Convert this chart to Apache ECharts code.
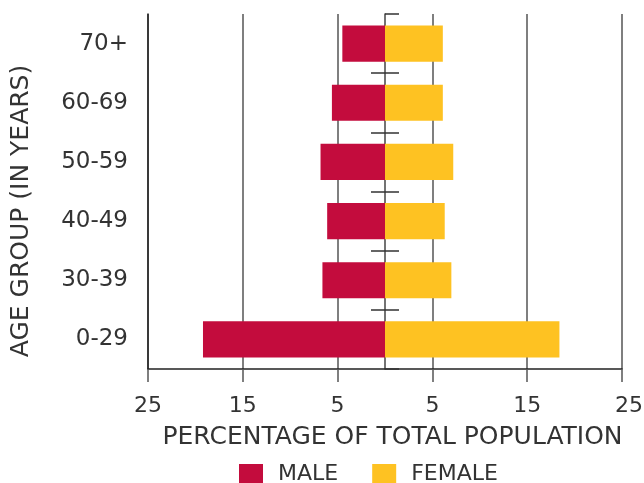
<!DOCTYPE html>
<html>
<head>
<meta charset="utf-8">
<script src="https://cdn.jsdelivr.net/npm/echarts@6/dist/echarts.min.js"></script>
<style>
  html, body { margin: 0; padding: 0; background: #fff; }
  #chart { width: 644px; height: 483px; }
</style>
</head>
<body>
<div id="chart"></div>
<script>
// Age groups, bottom to top
const ageGroups = ['0-29', '30-39', '40-49', '50-59', '60-69', '70+'];
// Share of total population (%)
const maleShare = [19.2, 6.6, 6.1, 6.8, 5.6, 4.5];
const femaleShare = [18.4, 7.0, 6.3, 7.2, 6.1, 6.1];
// Percentage axis ticks
const axisMin = -25;
const axisMax = 25;
const axisStep = 10;
// Band boundaries that carry a left-hand tick on the centre line
const centreTickLeft = [1, 2, 3, 4, 5];

const FONT = 'DejaVu Sans';
const TEXT = '#333333';
const RED = '#C30C3D';
const YELLOW = '#FEC222';

const chart = echarts.init(document.getElementById('chart'), null, { renderer: 'canvas' });

chart.setOption({
  animation: false,
  backgroundColor: '#ffffff',
  textStyle: { fontFamily: FONT, color: TEXT },
  grid: { left: 148, right: 22, top: 14, bottom: 114, containLabel: false, outerBoundsMode: 'none' },
  graphic: [{
    type: 'text',
    x: 21, y: 211,
    rotation: Math.PI / 2,
    style: {
      text: 'AGE GROUP (IN YEARS)',
      font: '25px "DejaVu Sans"',
      fill: TEXT,
      align: 'center',
      verticalAlign: 'middle'
    }
  }],
  legend: {
    left: 239, top: 463, padding: 0,
    itemWidth: 24, itemHeight: 20, itemGap: 34,
    icon: 'rect',
    textStyle: { fontFamily: FONT, fontSize: 22, color: TEXT, padding: [0, 0, 0, 10] },
    data: ['MALE', 'FEMALE']
  },
  xAxis: [{
    type: 'value',
    min: axisMin, max: axisMax, interval: axisStep,
    name: 'PERCENTAGE OF TOTAL POPULATION',
    nameLocation: 'middle',
    nameGap: 56,
    nameTextStyle: { fontFamily: FONT, fontSize: 25, color: TEXT, padding: [0, 0, 0, 15] },
    axisLine: { onZero: false, lineStyle: { color: '#222', width: 1.5 } },
    axisTick: { show: true, length: 13, lineStyle: { color: '#555', width: 1.5 } },
    axisLabel: {
      fontFamily: FONT, fontSize: 22, color: TEXT, margin: 26,
      // the outermost right label is nudged inward from the chart edge
      formatter: v => v === axisMax ? '{edge|' + Math.abs(v) + '}' : String(Math.abs(v)),
      rich: {
        edge: { fontFamily: FONT, fontSize: 22, color: TEXT, padding: [0, 0, 0, 14] }
      }
    },
    splitLine: { show: true, lineStyle: { color: '#555', width: 1.5 } }
  }, {
    // helper scale so a second centre-line axis can sit on zero
    type: 'value',
    min: axisMin, max: axisMax,
    show: false
  }],
  yAxis: [{
    type: 'category',
    data: ageGroups,
    position: 'left',
    axisLine: { onZero: false, lineStyle: { color: '#222', width: 1.5 } },
    axisTick: { show: false },
    axisLabel: { fontFamily: FONT, fontSize: 23, color: TEXT, margin: 20 }
  }, {
    type: 'category',
    data: ageGroups,
    position: 'left',
    axisLine: { show: true, onZero: true, onZeroAxisIndex: 0, lineStyle: { color: '#444', width: 1.5 } },
    axisTick: { show: true, inside: true, length: 14, lineStyle: { color: '#333', width: 1.5 } },
    axisLabel: { show: false }
  }, {
    type: 'value',
    min: 0, max: ageGroups.length,
    position: 'left',
    splitLine: { show: false },
    axisLine: { show: true, onZero: true, onZeroAxisIndex: 1, lineStyle: { color: 'rgba(0,0,0,0)', width: 0 } },
    axisTick: { show: true, inside: false, length: 14, customValues: centreTickLeft,
                lineStyle: { color: '#333', width: 1.5 } },
    axisLabel: { show: false }
  }],
  series: [{
    name: 'MALE',
    type: 'bar',
    stack: 'pop',
    yAxisIndex: 0,
    barCategoryGap: '39%',
    itemStyle: { color: RED },
    data: maleShare.map(v => -v)
  }, {
    name: 'FEMALE',
    type: 'bar',
    stack: 'pop',
    yAxisIndex: 0,
    barCategoryGap: '39%',
    itemStyle: { color: YELLOW },
    data: femaleShare
  }]
});
</script>
</body>
</html>
